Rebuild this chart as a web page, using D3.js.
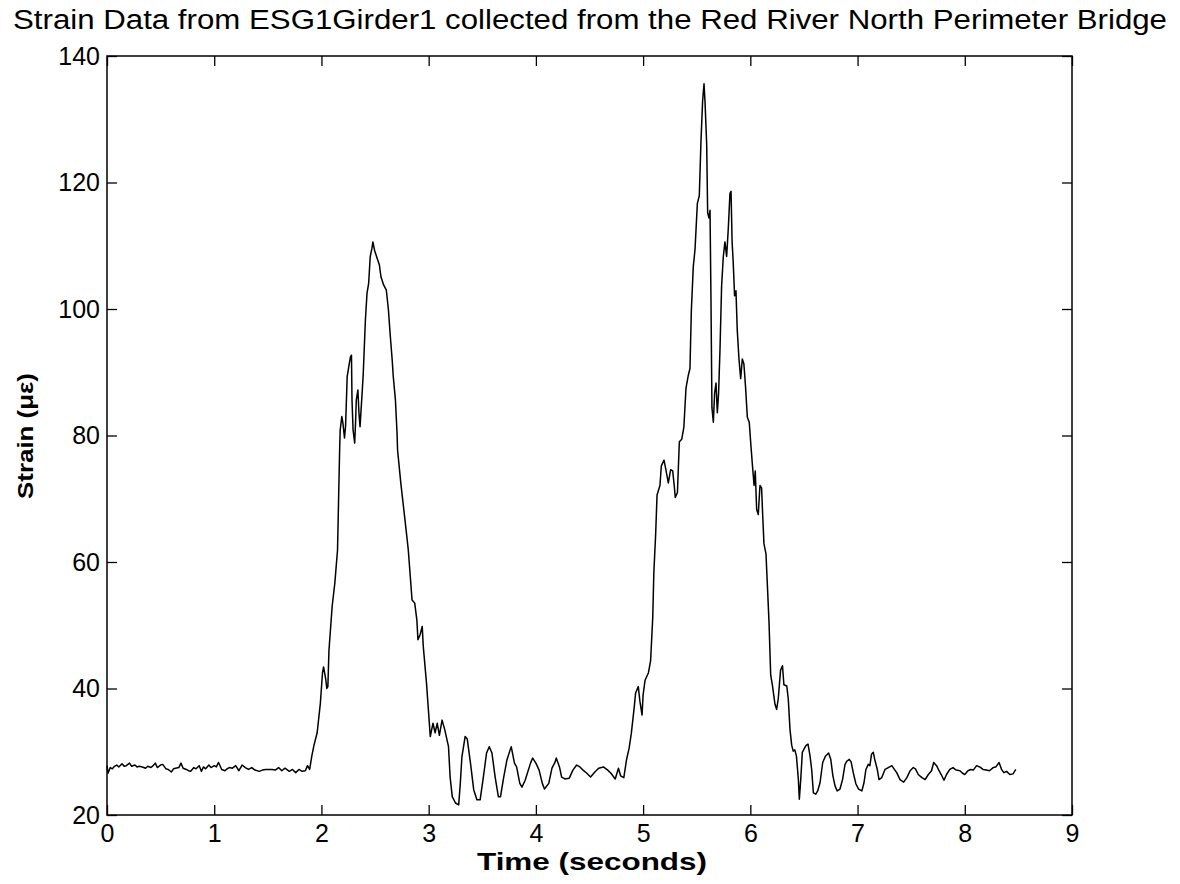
<!DOCTYPE html>
<html><head><meta charset="utf-8">
<script src="https://cdn.jsdelivr.net/npm/d3@7"></script>
<style>body{margin:0;background:#fff}svg{display:block}</style>
</head><body>
<svg id="chart" width="1180" height="884"></svg>
<script>
const titleText = "Strain Data from ESG1Girder1 collected from the Red River North Perimeter Bridge";
const xLabel = "Time (seconds)";
const yLabel = "Strain (\u03bc\u03b5)";
const xTicks = [0,1,2,3,4,5,6,7,8,9];
const yTicks = [20,40,60,80,100,120,140];

const time = [
0.00,0.01,0.03,0.05,0.07,0.09,0.11,0.14,0.16,0.18,0.21,0.23,0.26,0.28,0.30,0.33,0.36,0.38,0.41,0.43,
0.45,0.47,0.50,0.52,0.55,0.57,0.60,0.62,0.64,0.67,0.69,0.71,0.74,0.76,0.78,0.81,0.83,0.86,0.88,0.90,
0.92,0.95,0.97,1.00,1.02,1.04,1.07,1.10,1.12,1.14,1.17,1.20,1.23,1.26,1.29,1.32,1.35,1.38,1.42,1.45,
1.48,1.51,1.54,1.57,1.60,1.63,1.66,1.70,1.73,1.76,1.79,1.82,1.85,1.87,1.89,1.91,1.93,1.96,1.99,2.01,
2.02,2.04,2.05,2.06,2.07,2.10,2.125,2.15,2.16,2.17,2.175,2.19,2.20,2.215,2.225,2.24,2.255,2.27,2.28,2.285,
2.295,2.31,2.318,2.325,2.34,2.35,2.36,2.38,2.39,2.41,2.425,2.44,2.455,2.47,2.48,2.495,2.52,2.54,2.555,2.58,
2.605,2.625,2.64,2.66,2.67,2.69,2.705,2.71,2.74,2.77,2.79,2.81,2.845,2.87,2.89,2.90,2.92,2.94,2.95,2.98,
3.015,3.04,3.06,3.08,3.10,3.125,3.15,3.185,3.20,3.22,3.25,3.28,3.295,3.31,3.34,3.36,3.39,3.42,3.45,3.48,
3.51,3.54,3.565,3.59,3.62,3.65,3.67,3.70,3.73,3.76,3.77,3.80,3.82,3.85,3.87,3.90,3.95,3.97,4.00,4.03,
4.06,4.08,4.12,4.15,4.18,4.19,4.22,4.24,4.27,4.31,4.345,4.38,4.41,4.44,4.475,4.51,4.55,4.585,4.63,4.67,
4.70,4.74,4.77,4.79,4.82,4.845,4.87,4.89,4.915,4.93,4.955,4.97,4.99,5.00,5.018,5.05,5.07,5.09,5.10,5.117,
5.13,5.157,5.17,5.195,5.21,5.235,5.257,5.276,5.29,5.30,5.32,5.338,5.36,5.38,5.40,5.42,5.437,5.45,5.468,5.484,
5.506,5.524,5.54,5.555,5.568,5.577,5.593,5.602,5.614,5.624,5.633,5.642,5.655,5.667,5.68,5.692,5.704,5.717,5.732,5.748,
5.763,5.779,5.795,5.81,5.82,5.83,5.84,5.853,5.866,5.878,5.894,5.91,5.925,5.94,5.956,5.972,5.99,6.006,6.02,6.035,
6.046,6.059,6.074,6.09,6.105,6.115,6.127,6.146,6.158,6.174,6.19,6.205,6.23,6.245,6.26,6.282,6.30,6.313,6.34,6.354,
6.37,6.386,6.40,6.415,6.43,6.448,6.457,6.47,6.485,6.50,6.52,6.538,6.557,6.572,6.588,6.61,6.628,6.65,6.675,6.70,
6.73,6.75,6.77,6.79,6.81,6.836,6.86,6.883,6.90,6.923,6.94,6.96,6.985,7.01,7.04,7.06,7.078,7.10,7.115,7.13,
7.147,7.16,7.184,7.20,7.225,7.256,7.287,7.32,7.34,7.365,7.396,7.43,7.46,7.49,7.52,7.54,7.566,7.60,7.63,7.66,
7.69,7.71,7.737,7.76,7.78,7.806,7.83,7.86,7.89,7.92,7.955,7.98,8.00,8.03,8.055,8.08,8.11,8.14,8.17,8.20,
8.23,8.265,8.29,8.32,8.343,8.365,8.39,8.42,8.45,8.476
];
const strain = [
27.8,26.6,27.5,27.3,27.7,27.9,27.6,28.1,27.7,27.8,28.2,27.7,27.9,27.6,27.7,27.6,27.4,27.7,27.5,27.8,
28.2,27.5,27.9,28.0,27.3,27.2,26.8,27.3,27.4,27.5,28.2,27.4,27.2,27.0,26.9,27.5,27.3,27.8,26.9,27.6,
27.3,27.9,27.5,27.8,27.6,28.3,27.2,27.0,27.3,27.5,27.4,27.8,27.0,27.9,27.5,27.2,27.5,27.1,26.9,27.1,
27.2,27.2,27.2,27.1,27.5,27.0,27.4,26.9,27.2,26.7,27.2,26.9,27.0,27.8,27.2,29.3,31.0,33.0,37.7,42.5,
43.4,41.5,40.0,40.3,46.0,53.0,56.7,61.9,70.0,78.0,80.9,83.0,82.0,79.6,81.5,89.3,90.9,92.4,92.7,85.6,
80.9,78.8,82.0,85.6,87.2,83.5,81.4,86.9,89.8,98.3,102.5,104.0,108.3,109.5,110.6,109.3,108.0,107.0,105.1,103.8,
103.0,99.8,96.2,91.9,89.3,85.6,80.4,77.7,72.5,68.0,65.0,61.9,54.0,53.5,50.8,47.7,48.5,49.8,46.6,40.8,
32.4,34.5,33.0,34.5,32.6,35.0,33.5,30.8,26.0,22.9,21.9,21.6,25.0,29.2,32.4,32.0,28.2,24.0,22.4,22.4,
26.0,29.8,30.8,29.8,26.0,22.9,22.9,26.0,28.7,30.3,30.8,28.2,27.6,25.0,24.4,25.5,28.2,29.0,28.2,27.1,
25.0,24.1,25.0,27.4,28.4,29.0,27.6,26.0,25.7,25.8,27.1,27.9,27.6,27.1,26.6,26.0,26.8,27.4,27.6,27.1,
26.6,25.7,27.4,26.2,25.9,28.7,30.6,32.9,36.7,39.3,40.3,38.0,35.8,39.0,41.3,42.5,44.4,51.3,58.3,64.4,
70.6,72.1,75.2,76.1,74.8,72.5,74.6,74.4,72.1,70.2,71.0,79.0,79.4,81.3,87.5,89.4,90.6,99.8,106.7,109.4,
116.7,117.9,126.7,132.9,135.6,132.9,126.0,115.2,114.4,115.6,101.3,84.4,82.1,86.7,88.3,83.6,86.7,93.6,103.6,108.3,
110.6,108.3,112.9,118.3,118.6,110.6,107.5,102.1,102.9,96.7,92.1,89.0,92.1,91.3,87.5,82.9,82.1,78.3,75.2,72.1,
74.4,68.3,67.5,72.1,71.7,67.5,62.9,61.3,56.7,50.6,42.1,40.6,37.5,36.7,38.3,42.9,43.6,40.6,40.4,38.3,
33.5,31.0,30.1,30.3,29.3,25.6,22.5,25.6,29.9,30.4,31.0,31.2,29.3,27.2,23.5,23.3,23.8,25.1,28.3,29.3,
29.8,28.8,26.2,24.6,23.8,24.1,25.6,28.0,28.5,28.8,28.4,26.7,24.9,24.1,23.8,25.1,27.2,28.0,27.8,29.6,
29.9,28.8,27.2,25.6,25.9,27.2,27.5,27.8,27.3,26.7,25.6,25.2,25.9,27.0,27.5,27.3,26.4,25.9,25.6,26.4,
27.0,28.3,27.8,27.0,26.4,25.5,26.4,27.2,27.5,27.1,27.0,26.6,26.4,27.0,27.2,27.1,27.8,27.6,27.2,27.1,
27.0,27.5,27.6,28.3,27.2,26.7,26.9,26.4,26.5,27.2
];

const W = 1180, H = 884;
const m = {left:107, right:1072, top:56, bottom:815};
const svg = d3.select("#chart");
const x = d3.scaleLinear().domain([0,9]).range([m.left, m.right]);
const y = d3.scaleLinear().domain([20,140]).range([m.bottom, m.top]);
const font = "Liberation Sans, Arial, Helvetica, sans-serif";

// frame
svg.append("rect").attr("x", m.left).attr("y", m.top)
  .attr("width", m.right - m.left).attr("height", m.bottom - m.top)
  .attr("fill", "none").attr("stroke", "#000").attr("stroke-width", 1.5);

const tl = 10;
const gB = svg.append("g").attr("transform", `translate(0,${m.bottom})`)
  .call(d3.axisBottom(x).tickValues(xTicks).tickSizeInner(-tl).tickSizeOuter(0).tickPadding(9).tickFormat(d3.format("d")));
const gT = svg.append("g").attr("transform", `translate(0,${m.top})`)
  .call(d3.axisTop(x).tickValues(xTicks).tickSizeInner(-tl).tickSizeOuter(0).tickFormat(""));
const gL = svg.append("g").attr("transform", `translate(${m.left},0)`)
  .call(d3.axisLeft(y).tickValues(yTicks).tickSizeInner(-tl).tickSizeOuter(0).tickPadding(7).tickFormat(d3.format("d")));
const gR = svg.append("g").attr("transform", `translate(${m.right},0)`)
  .call(d3.axisRight(y).tickValues(yTicks).tickSizeInner(-tl).tickSizeOuter(0).tickFormat(""));
[gB,gT,gL,gR].forEach(g => {
  g.select(".domain").remove();
  g.selectAll(".tick line").attr("stroke","#000").attr("stroke-width",1.3);
  g.selectAll("text").attr("fill","#000").style("font-family", font).style("font-size","25px");
});

// data line
const pts = time.map((t,i) => [t, strain[i]]);
svg.append("path").datum(pts)
  .attr("fill","none").attr("stroke","#000").attr("stroke-width",1.5)
  .attr("stroke-linejoin","round")
  .attr("d", d3.line().x(d => x(d[0])).y(d => y(d[1])));

// title
svg.append("text").attr("x", 590).attr("y", 29).attr("text-anchor","middle")
  .style("font-family", font).style("font-size","27px").attr("fill","#000")
  .attr("textLength", 1154).attr("lengthAdjust","spacingAndGlyphs")
  .text(titleText);

// axis labels
svg.append("text").attr("x", 592).attr("y", 870).attr("text-anchor","middle")
  .style("font-family", font).style("font-size","24px").style("font-weight","bold").attr("fill","#000")
  .attr("textLength", 230).attr("lengthAdjust","spacingAndGlyphs")
  .text(xLabel);
svg.append("text").attr("transform","translate(33,436) rotate(-90)").attr("text-anchor","middle")
  .style("font-family", font).style("font-size","22px").style("font-weight","bold").attr("fill","#000")
  .attr("textLength", 126).attr("lengthAdjust","spacingAndGlyphs")
  .text(yLabel);
</script>
</body></html>
